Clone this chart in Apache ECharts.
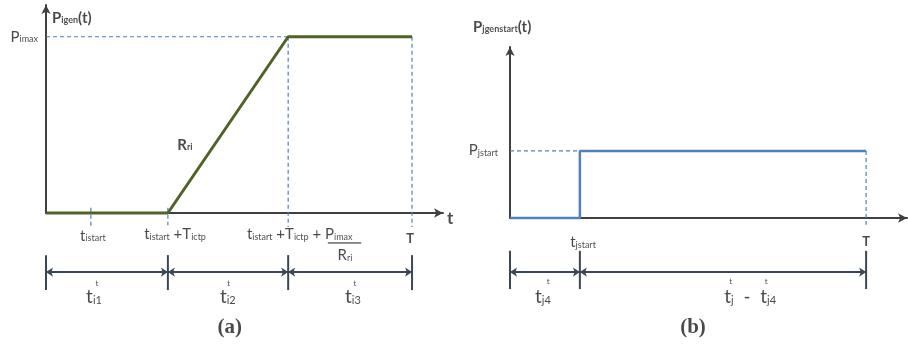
<!DOCTYPE html>
<html>
<head>
<meta charset="UTF-8">
<title>ramp and start-up step</title>
<script src="https://cdn.jsdelivr.net/npm/echarts@6/dist/echarts.min.js"></script>
</head>
<body style="margin:0;background:#fff">
<div id="main" style="width:908px;height:345px;"></div>
<script>
// (a) generator output: time points and power (in Pimax units)
var rampTime = [0, 30.7, 61, 92.2];
var rampPower = [0, 0, 1, 1];
// instants on the (a) time axis: tistart, tistart+Tictp, end of ramp, T
var instantsA = [11.3, 30.7, 61, 92.2];

// (b) start-up power: time points and power (in Pjstart units)
var stepTime = [0, 17.6, 17.6, 89.7];
var stepPower = [0, 0, 1, 1];
// instants on the (b) time axis: tjstart, T
var instantsB = [17.6, 89.7];

var dark = '#1c1c1c';
var font = 'Lato';
var rich = {
    m: { fontFamily: font, fontSize: 15, color: dark },
    s: { fontFamily: font, fontSize: 9, color: dark, padding: [5, 0, 0, 0] },
    mb: { fontFamily: font, fontSize: 15, fontWeight: 'bold', color: dark },
    sb: { fontFamily: font, fontSize: 9, fontWeight: 'bold', color: dark, padding: [5, 0, 0, 0] },
    tb: { fontFamily: font, fontSize: 13, fontWeight: 'bold', color: dark },
    ax: { fontFamily: font, fontSize: 17, fontWeight: 'bold', color: dark },
    d: { fontFamily: font, fontSize: 19, color: dark },
    ds: { fontFamily: font, fontSize: 11, color: dark, padding: [6, 0, 0, 0] },
    sup: { fontFamily: font, fontSize: 8, color: dark },
    cap: { fontFamily: 'Liberation Serif', fontSize: 21, fontWeight: 'bold', color: dark }
};

function pairs(xs, ys) {
    return xs.map(function (x, i) { return [x, ys[i]]; });
}

function seg(g, pts, color, width, type) {
    return {
        type: 'line', xAxisIndex: g, yAxisIndex: g, data: pts, symbol: 'none',
        clip: false, silent: true,
        lineStyle: { color: color, width: width, type: type || 'solid' }
    };
}

// dimension ticks and double arrows below an axis
function dims(g, xs, y0, y1, ya) {
    var out = [];
    xs.forEach(function (x) {
        out.push(seg(g, [[x, y0], [x, y1]], '#3b4657', 2));
    });
    var arrows = [];
    for (var i = 0; i < xs.length - 1; i++) {
        arrows.push({ coords: [[xs[i], ya], [xs[i + 1], ya]] });
    }
    out.push({
        type: 'lines', coordinateSystem: 'cartesian2d', xAxisIndex: g, yAxisIndex: g,
        clip: false, silent: true, symbol: ['arrow', 'arrow'], symbolSize: 7,
        lineStyle: { color: '#3b4657', width: 2, opacity: 1 },
        data: arrows
    });
    return out;
}

function texts(g, items) {
    return {
        type: 'scatter', xAxisIndex: g, yAxisIndex: g, symbolSize: 0, clip: false, silent: true,
        data: items.map(function (it) {
            return {
                value: [it[0], it[1]],
                label: { show: true, position: it[3] || 'inside', distance: 0, formatter: it[2], rich: rich }
            };
        })
    };
}

function axisStyle(max) {
    return {
        type: 'value', min: 0, max: max,
        axisLine: { show: true, onZero: false, symbol: ['none', 'arrow'], symbolSize: [7, 9],
            lineStyle: { color: '#404040', width: 2 } },
        axisTick: { show: false }, axisLabel: { show: false }, splitLine: { show: false }
    };
}

var dash = [4, 3];
var blue = '#4f81bd';
var series = [];

// ---- panel (a)
series.push(seg(0, [[0, 1], [instantsA[2], 1]], blue, 1.2, dash));
series.push(seg(0, [[instantsA[2], 1], [instantsA[2], -0.08]], blue, 1.2, dash));
series.push(seg(0, [[instantsA[3], 1], [instantsA[3], -0.08]], blue, 1.2, dash));
series.push(seg(0, [[instantsA[0], 0.03], [instantsA[0], -0.08]], blue, 1.2, dash));
series.push(seg(0, [[instantsA[1], 0.03], [instantsA[1], -0.07]], blue, 1.2, dash));
series.push(seg(0, pairs(rampTime, rampPower), '#4f6228', 3));
series = series.concat(dims(0, [0, instantsA[1], instantsA[2], instantsA[3]], -0.239, -0.4375, -0.335));
series.push(seg(0, [[71, -0.17], [79.4, -0.17]], dark, 1));
series.push(texts(0, [
    [1.5, 1.108, '{mb|P}{sb|igen}{mb|(t)}', 'right'],
    [-2, 1, '{m|P}{s|imax}', 'left'],
    [35, 0.386, '{mb|R}{sb|ri}'],
    [101.8, -0.034, '{ax|t}'],
    [11.8, -0.13, '{m|t}{s|istart}'],
    [32.5, -0.12, '{m|t}{s|istart}{m| +T}{s|ictp}'],
    [50.6, -0.12, '{m|t}{s|istart}{m| +T}{s|ictp}{m| + P}{s|imax}', 'right'],
    [75.3, -0.239, '{m|R}{s|ri}'],
    [91.7, -0.148, '{tb|T}'],
    [12.1, -0.477, '{d|t}{ds|i1}'], [12.8, -0.40, '{sup|t}'],
    [45.8, -0.477, '{d|t}{ds|i2}'], [46.0, -0.40, '{sup|t}'],
    [77.3, -0.477, '{d|t}{ds|i3}'], [77.8, -0.40, '{sup|t}'],
    [46.3, -0.648, '{cap|(a)}']
]));

// ---- panel (b)
series.push(seg(1, [[0, 1], [instantsB[0], 1]], blue, 1.2, dash));
series.push(seg(1, [[instantsB[1], 1], [instantsB[1], -0.1]], blue, 1.2, dash));
series.push(seg(1, pairs(stepTime, stepPower), blue, 2.5));
series = series.concat(dims(1, [0, instantsB[0], instantsB[1]], -0.49, -1.06, -0.806));
series.push(texts(1, [
    [-9.3, 2.85, '{mb|P}{sb|jgenstart}{mb|(t)}', 'right'],
    [-3, 1.01, '{m|P}{s|jstart}', 'left'],
    [18.4, -0.36, '{m|t}{s|jstart}'],
    [89.7, -0.36, '{tb|T}'],
    [8.3, -1.18, '{d|t}{ds|j4}'], [9.6, -0.95, '{sup|t}'],
    [60.5, -1.18, '{d|t}{ds|j}{d|  -  t}{ds|j4}'], [55.6, -0.95, '{sup|t}'], [64.5, -0.95, '{sup|t}'],
    [46.1, -1.63, '{cap|(b)}']
]));

var chart = echarts.init(document.getElementById('main'));
chart.setOption({
    animation: false,
    backgroundColor: '#fff',
    grid: [
        { left: 46, top: 5, width: 397, height: 208 },
        { left: 510, top: 47, width: 397, height: 171 }
    ],
    xAxis: [axisStyle(100), Object.assign(axisStyle(100), { gridIndex: 1 })],
    yAxis: [axisStyle(1.18), Object.assign(axisStyle(2.55), { gridIndex: 1 })],
    series: series
});
</script>
</body>
</html>
